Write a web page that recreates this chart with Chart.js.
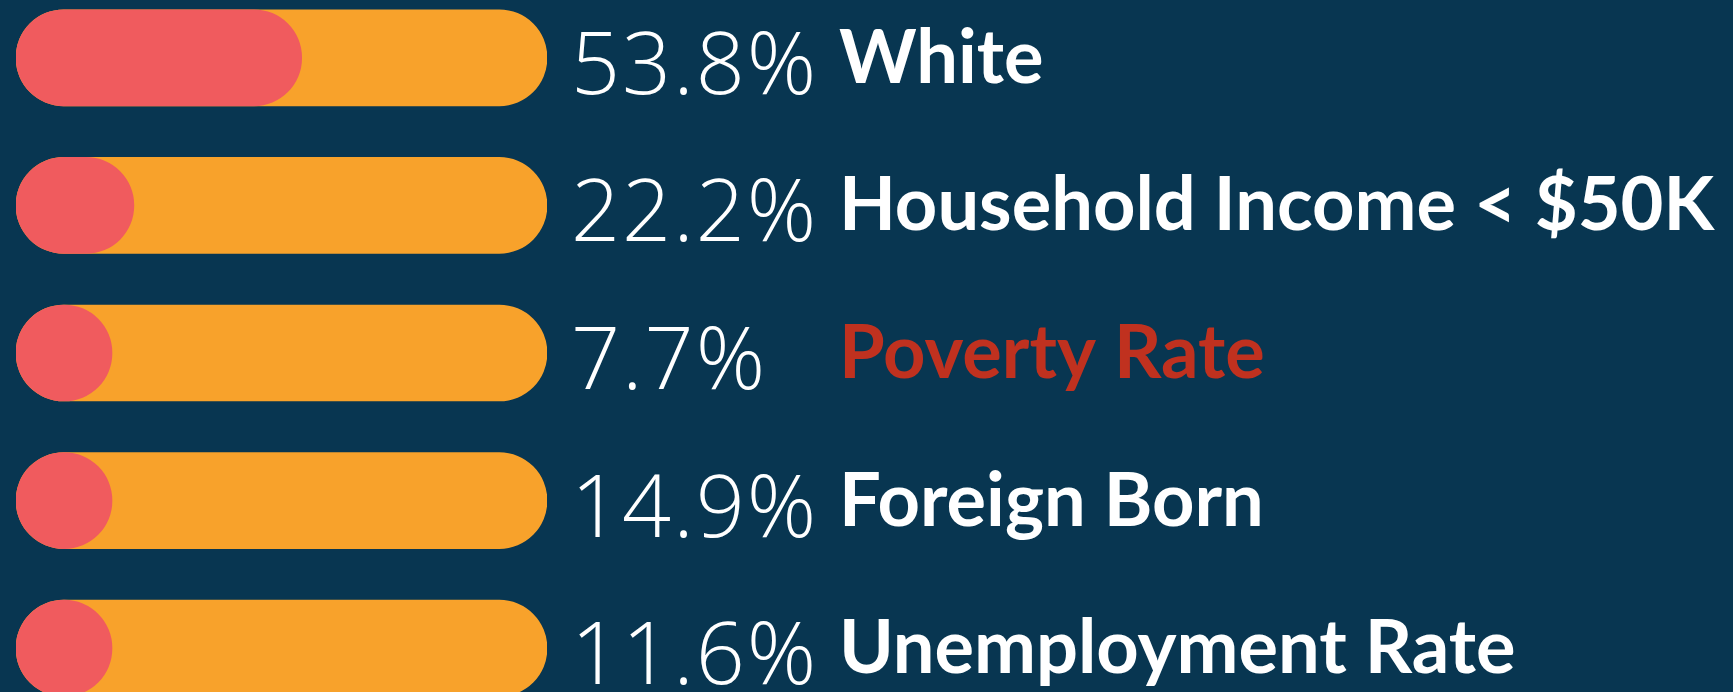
<!DOCTYPE html>
<html>
<head>
<meta charset="utf-8">
<script src="https://cdn.jsdelivr.net/npm/chart.js@4.4.0/dist/chart.umd.min.js"></script>
<style>
  html, body { margin: 0; padding: 0; background: #083651; overflow: hidden; width: 1733px; height: 692px; }
  #myChart { position: absolute; left: 0; top: -16px; }
</style>
</head>
<body>
<canvas id="myChart" width="1733" height="738"></canvas>
<script>
const categories = ['White', 'Household Income < $50K', 'Poverty Rate', 'Foreign Born', 'Unemployment Rate'];
const values = [53.8, 22.2, 7.7, 14.9, 11.6];
const track = [100, 100, 100, 100, 100];
const labelColors = ['#ffffff', '#ffffff', '#c0311f', '#ffffff', '#ffffff'];

// draws the percentage and the category name right of each bar
const textLabels = {
  id: 'textLabels',
  afterDraw: (chart) => {
    const ctx = chart.ctx;
    const y = chart.scales.y;
    const right = chart.chartArea.right;
    ctx.save();
    ctx.textBaseline = 'alphabetic';
    ctx.textAlign = 'left';
    categories.forEach((name, i) => {
      let cy = y.getPixelForValue(i);
      ctx.fillStyle = '#ffffff';
      ctx.font = '300 86px "Open Sans"';
      ctx.letterSpacing = '2px';
      ctx.fillText(values[i] + '%', right + 24, cy + 36);
      ctx.letterSpacing = '0px';
      ctx.fillStyle = labelColors[i];
      ctx.font = 'bold 74px Lato';
      ctx.fillText(name, right + 292, cy + 25);
    });
    ctx.restore();
  }
};

let plot = () => {
  const ctx = document.getElementById('myChart');
  const dataset = {
    labels: categories,
    datasets: [{
      label: 'value',
      data: values,
      backgroundColor: '#f05b5e',
      borderRadius: 48,
      borderSkipped: false,
      minBarLength: 96,
      barThickness: 96,
      order: 1
    }, {
      label: 'track',
      data: track,
      backgroundColor: '#f8a22b',
      borderRadius: 48,
      borderSkipped: false,
      barThickness: 96,
      order: 2
    }]
  };
  const config = {
    type: 'bar',
    data: dataset,
    options: {
      indexAxis: 'y',
      responsive: false,
      animation: false,
      layout: { padding: { left: 16, right: 1186, top: 0, bottom: 0 } },
      plugins: { legend: { display: false }, tooltip: { enabled: false } },
      scales: {
        x: { min: 0, max: 100, display: false, stacked: false },
        y: { display: false, stacked: true }
      }
    },
    plugins: [textLabels]
  };
  const chart = new Chart(ctx, config);
};

plot();
</script>
</body>
</html>
